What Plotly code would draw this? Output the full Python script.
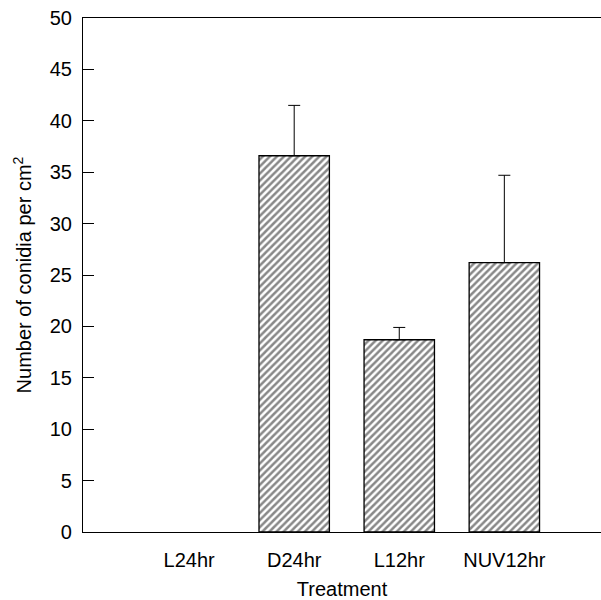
import plotly.graph_objects as go

categories = ["L24hr", "D24hr", "L12hr", "NUV12hr"]
means = [0, 36.6, 18.7, 26.2]
errors_up = [0, 4.9, 1.2, 8.5]

FONT = "Liberation Sans, Arial, sans-serif"

x_idx = list(range(len(categories)))

fig = go.Figure()
fig.add_trace(go.Bar(
    x=x_idx,
    y=means,
    width=0.67,
    marker=dict(
        color="white",
        line=dict(color="black", width=[0 if v == 0 else 1.3 for v in means]),
        pattern=dict(shape="/", size=5, solidity=0.5, fgcolor="#111111", bgcolor="white"),
    ),
    showlegend=False,
))

# upward-only error bars for bars with a non-zero value
err_x = [i for i, e in zip(x_idx, errors_up) if e > 0]
err_y = [m for m, e in zip(means, errors_up) if e > 0]
err_v = [e for e in errors_up if e > 0]
fig.add_trace(go.Scatter(
    x=err_x, y=err_y, mode="markers",
    marker=dict(size=1, color="rgba(0,0,0,0)"),
    error_y=dict(
        type="data", symmetric=False, array=err_v, arrayminus=[0] * len(err_v),
        color="black", thickness=1, width=6, visible=True,
    ),
    showlegend=False, hoverinfo="skip",
))

fig.update_layout(
    width=601, height=600,
    margin=dict(l=83, r=0, t=18, b=68),
    paper_bgcolor="white", plot_bgcolor="white",
    font=dict(family=FONT, size=20, color="black"),
    xaxis=dict(
        range=[-1.01, 3.92],
        tickvals=x_idx,
        ticktext=categories,
        showline=True, linecolor="black", linewidth=1.2, mirror=True,
        ticks="", showgrid=False, zeroline=False,
        ticklabelstandoff=10,
        title=dict(text="Treatment", font=dict(size=20), standoff=14),
    ),
    yaxis=dict(
        range=[0, 50], dtick=5,
        showline=True, linecolor="black", linewidth=1.2,
        ticks="inside", ticklen=11, tickcolor="black", tickwidth=1,
        showgrid=False, zeroline=False,
        ticklabelstandoff=6,
        title=dict(text="Number of conidia per cm<sup>2</sup>", font=dict(size=20), standoff=12),
    ),
)

fig.write_html("out.html")
